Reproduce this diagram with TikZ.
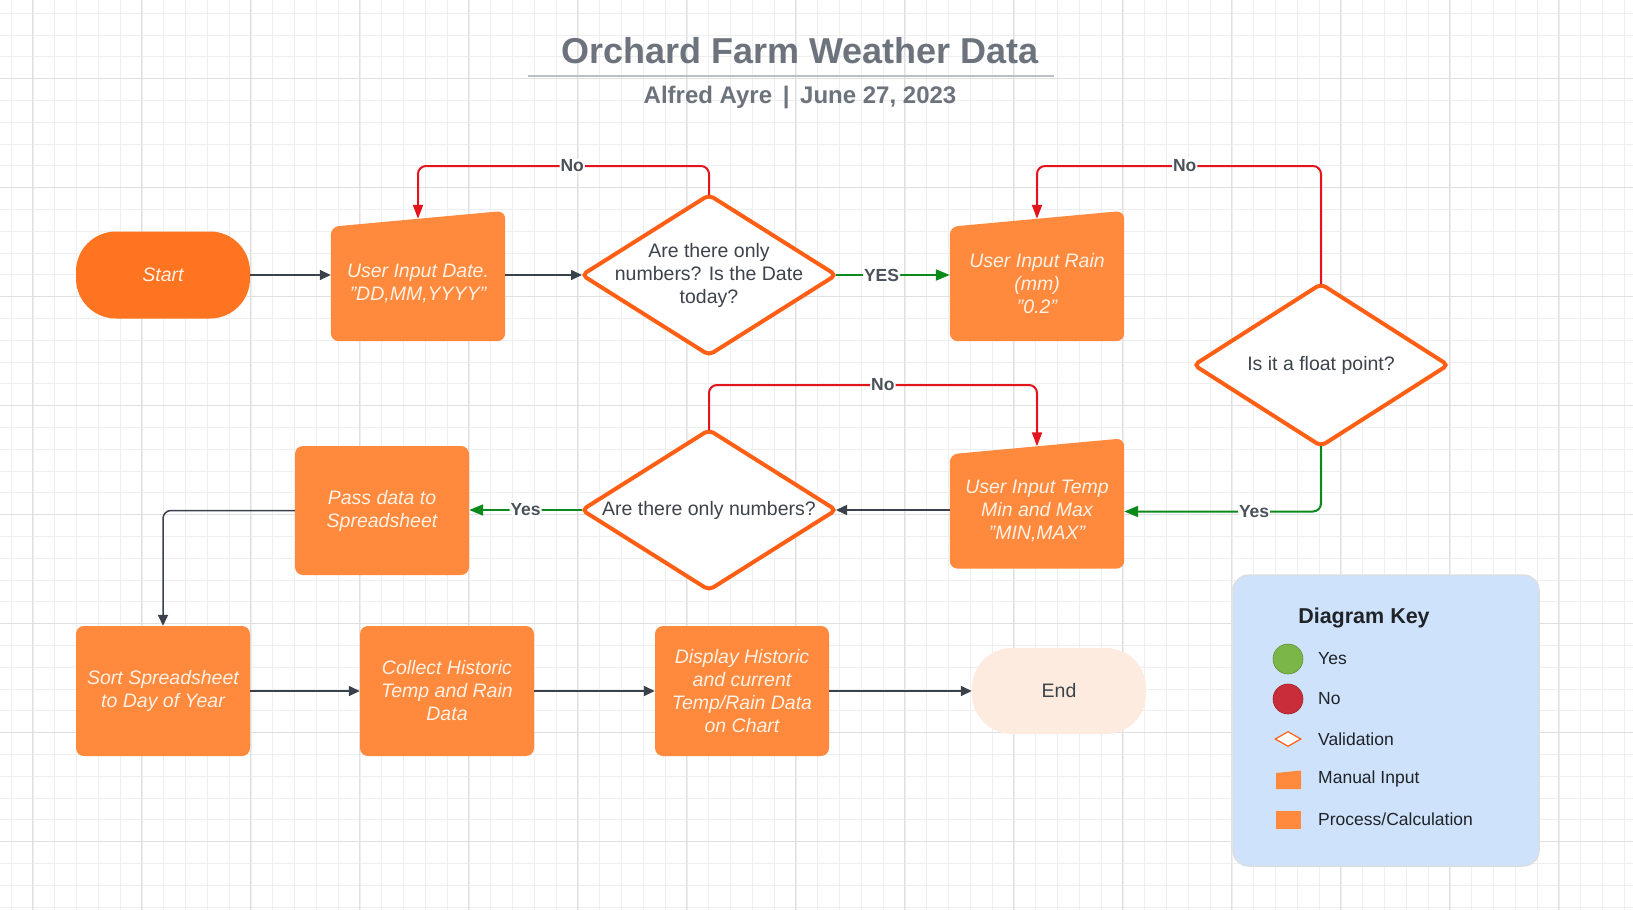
\documentclass[tikz,border=0pt]{standalone}
\usepackage{fontspec}
\setmainfont{Liberation Sans}
\usetikzlibrary{arrows.meta,shapes.geometric,calc}
\pgfdeclarelayer{grid}
\pgfdeclarelayer{bg}
\pgfsetlayers{grid,bg,main}
\definecolor{procor}{HTML}{FF8A3D}
\definecolor{startor}{HTML}{FF7420}
\definecolor{diaor}{HTML}{FF5F14}
\definecolor{endfill}{HTML}{FDEBDF}
\definecolor{edgegray}{HTML}{3A414A}
\definecolor{nored}{HTML}{E3141B}
\definecolor{yesgreen}{HTML}{0B8A1C}
\definecolor{titlegray}{HTML}{6C737C}
\definecolor{underl}{HTML}{BCC0C6}
\definecolor{lblgray}{HTML}{4B5159}
\definecolor{diatextc}{HTML}{3D434B}
\definecolor{nodetext}{HTML}{FFF1E6}
\definecolor{keyfill}{HTML}{CFE2FC}
\definecolor{keyborder}{HTML}{D9DEE4}
\definecolor{keytext}{HTML}{1F2328}
\definecolor{minorgrid}{HTML}{EEEEEE}
\definecolor{majorgrid}{HTML}{E0E0E0}
\definecolor{kgreen}{HTML}{7AB648}
\definecolor{kred}{HTML}{C92D39}
\newcommand\manualbg[1]{%
  \begin{pgfonlayer}{bg}
    \fill[procor, rounded corners=8pt] (#1.south west) -- (#1.north west) -- ([yshift=16pt]#1.north east) -- (#1.south east) -- cycle;
  \end{pgfonlayer}}
\begin{document}
\begin{tikzpicture}[x=1pt,y=-1pt,
  nodefont/.style={font=\fontsize{19.5}{23}\selectfont\itshape},
  proc/.style={rectangle, fill=procor, rounded corners=8pt, minimum width=174pt, minimum height=130pt, inner sep=0pt, text=nodetext, nodefont, align=center},
  manual/.style={rectangle, minimum width=174pt, minimum height=114pt, inner sep=0pt, text=nodetext, nodefont, align=center},
  dia/.style={diamond, draw=diaor, line width=4pt, fill=white, minimum width=254pt, minimum height=160pt, inner sep=0pt, outer sep=0pt, rounded corners=5pt},
  diatext/.style={text=diatextc, font=\fontsize{19.5}{23}\selectfont, align=center, inner sep=0pt},
  flow/.style={draw=edgegray, line width=1.5pt, -{Triangle[length=11pt,width=10pt]}},
  noedge/.style={draw=nored, line width=2pt, rounded corners=8pt, -{Triangle[length=14pt,width=10pt]}},
  yesedge/.style={draw=yesgreen, line width=2pt, rounded corners=8pt, -{Triangle[length=14pt,width=11pt]}},
  lbl/.style={fill=white, inner sep=1pt, text=lblgray, font=\fontsize{17.5}{17.5}\selectfont\bfseries},
  keylbl/.style={anchor=west, inner sep=0pt, text=keytext, font=\fontsize{17.5}{20}\selectfont}
]
\useasboundingbox (0,0) rectangle (1633,910);
% grid
\begin{pgfonlayer}{grid}
  \fill[white] (0,0) rectangle (1633,910);
  \foreach \i in {0,...,75} \draw[minorgrid, line width=1pt] ({11.3+21.8*\i},0) -- ({11.3+21.8*\i},910);
  \foreach \i in {0,...,42} \draw[minorgrid, line width=1pt] (0,{13.3+21.8*\i}) -- (1633,{13.3+21.8*\i});
  \foreach \i in {0,...,15} \draw[majorgrid, line width=1.3pt] ({32.7+109*\i},0) -- ({32.7+109*\i},910);
  \foreach \i in {0,...,8} \draw[majorgrid, line width=1.3pt] (0,{78.3+109*\i}) -- (1633,{78.3+109*\i});
\end{pgfonlayer}

% title
\node[font=\fontsize{36}{36}\selectfont\bfseries, text=titlegray, inner sep=0pt] (title) at (800,51) {Orchard Farm Weather Data};
\draw[underl, line width=2pt] (528,76) -- (1054,76);
\node[font=\fontsize{24}{24}\selectfont\bfseries, text=titlegray, inner sep=0pt, anchor=base] (subtitle) at (800,103) {Alfred Ayre\,\ |\ \,June 27, 2023};

% row 1
\node[proc, fill=startor, rounded corners=40pt, minimum height=87pt] (start) at (163,275) {Start};
\node[manual] (date) at (418,284) {User Input Date.\\"DD,MM,YYYY"};
\manualbg{date}
\node[dia] (d1) at (709,275) {};
\node[diatext] (d1t) at (d1) {Are there only\\numbers? Is the Date\\today?};
\node[manual] (rain) at (1037,284) {User Input Rain\\(mm)\\"0.2"};
\manualbg{rain}
\node[dia, minimum height=162pt] (fl) at (1321,365) {};
\node[diatext] (flt) at (fl) {Is it a float point?};

% row 2
\node[manual] (temp) at (1037,511.5) {User Input Temp\\Min and Max\\"MIN,MAX"};
\manualbg{temp}
\node[dia] (d3) at (709,510) {};
\node[diatext] (d3t) at (d3) {Are there only numbers?};
\node[proc, minimum height=129pt] (pass) at (382,510.5) {Pass data to\\Spreadsheet};

% row 3
\node[proc] (sort) at (163,691) {Sort Spreadsheet\\to Day of Year};
\node[proc] (collect) at (447,691) {Collect Historic\\Temp and Rain\\Data};
\node[proc] (display) at (742,691) {Display Historic\\and current\\Temp/Rain Data\\on Chart};
\node[proc, fill=endfill, rounded corners=40pt, minimum height=86pt, text=diatextc, font=\fontsize{19.5}{23}\selectfont] (end) at (1059,691) {End};

% connectors
\draw[flow] (start.east) -- (start.east -| date.west);
\draw[flow] (date.east |- d1.west) -- (d1.west);
\draw[yesedge] (d1.east) -- node[lbl, pos=0.4]{YES} (d1.east -| rain.west);
\draw[noedge] (d1.north) -- ++(0,-29) -| node[lbl, pos=0.235]{No} ([yshift=8pt]date.north);
\draw[noedge] (fl.north) -- ++(0,-118) -| node[lbl, pos=0.24]{No} ([yshift=8pt]rain.north);
\draw[yesedge] (fl.south) |- node[lbl, pos=0.67]{Yes} (temp.east);
\draw[flow] (temp.west |- d3.east) -- (d3.east);
\draw[noedge] (d3.north) -- ++(0,-45) -| node[lbl, pos=0.265]{No} ([yshift=8pt]temp.north);
\draw[yesedge] (d3.west) -- node[lbl]{Yes} (d3.west -| pass.east);
\draw[flow, rounded corners=8pt] (pass.west) -| (sort.north);
\draw[flow] (sort.east) -- (collect.west);
\draw[flow] (collect.east) -- (display.west);
\draw[flow] (display.east) -- (end.west);

% key
\node[rectangle, rounded corners=16pt, fill=keyfill, draw=keyborder, line width=1.5pt, minimum width=306pt, minimum height=291pt, inner sep=0pt] (key) at (1386,720.5) {};
\node[text=keytext, font=\fontsize{21.5}{22}\selectfont\bfseries, inner sep=0pt] (keytitle) at (1364,618) {Diagram Key};
\node[circle, fill=kgreen, draw=kgreen!80!black, line width=0.6pt, minimum size=30pt, inner sep=0pt] (kyes) at (1288,659) {};
\node[keylbl] (kyesl) at (1318,659) {Yes};
\node[circle, fill=kred, draw=kred!80!black, line width=0.6pt, minimum size=30pt, inner sep=0pt] (kno) at (1288,699) {};
\node[keylbl] (knol) at (1318,699) {No};
\node[diamond, draw=diaor, fill=white, line width=1.2pt, minimum width=26pt, minimum height=15pt, inner sep=0pt] (kval) at (1288,739) {};
\node[keylbl] (kvall) at (1318,739) {Validation};
\fill[procor] (1276,789) -- (1276,773) -- (1301,770.5) -- (1301,789) -- cycle;
\node[keylbl] (kmanl) at (1318,779) {Manual Input};
\node[rectangle, fill=procor, minimum width=25pt, minimum height=18pt, inner sep=0pt] (kproc) at (1288.5,820) {};
\node[keylbl] (kprocl) at (1318,819) {Process/Calculation};
\end{tikzpicture}
\end{document}
